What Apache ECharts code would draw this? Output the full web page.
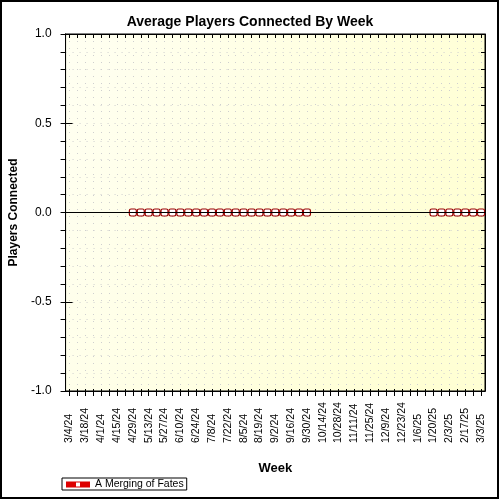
<!DOCTYPE html>
<html>
<head>
<meta charset="utf-8">
<script src="https://cdn.jsdelivr.net/npm/echarts@6/dist/echarts.min.js"></script>
<style>
  html, body { margin: 0; padding: 0; background: #fff; }
  #main { width: 500px; height: 500px; }
</style>
</head>
<body>
<div id="main"></div>
<script>
var weeks = ['3/4/24', '3/11/24', '3/18/24', '3/25/24', '4/1/24', '4/8/24', '4/15/24', '4/22/24',
	'4/29/24', '5/6/24', '5/13/24', '5/20/24', '5/27/24', '6/3/24', '6/10/24', '6/17/24', '6/24/24',
	'7/1/24', '7/8/24', '7/15/24', '7/22/24', '7/29/24', '8/5/24', '8/12/24', '8/19/24', '8/26/24',
	'9/2/24', '9/9/24', '9/16/24', '9/23/24', '9/30/24', '10/7/24', '10/14/24', '10/21/24', '10/28/24',
	'11/4/24', '11/11/24', '11/18/24', '11/25/24', '12/2/24', '12/9/24', '12/16/24', '12/23/24',
	'12/30/24', '1/6/25', '1/13/25', '1/20/25', '1/27/25', '2/3/25', '2/10/25', '2/17/25', '2/24/25',
	'3/3/25'];

var seriesName = 'A Merging of Fates';
var playersConnected = [null, null, null, null, null, null, null, null,
	0, 0, 0, 0, 0, 0, 0, 0, 0, 0, 0, 0, 0, 0, 0, 0, 0, 0, 0, 0, 0, 0, 0,
	null, null, null, null, null, null, null, null, null, null, null, null, null, null, null,
	0, 0, 0, 0, 0, 0, 0];

var yTicks = [-1, -0.5, 0, 0.5, 1];

var font = "'Liberation Sans', Arial, sans-serif";
var dotted = { color: '#cfcfcf', width: 1, type: [1, 6] };
var black = { color: '#000', width: 1 };

var myChart = echarts.init(document.getElementById('main'));

// one value axis, reused for the inside / outside tick sets
function valueAxis(extra) {
	var base = {
		type: 'value',
		min: yTicks[0],
		max: yTicks[yTicks.length - 1],
		interval: 0.5,
		axisLine: { show: true, onZero: false, lineStyle: black },
		axisLabel: { show: false },
		splitLine: { show: false }
	};
	return Object.assign(base, extra);
}

function weekAxis(extra) {
	var base = {
		type: 'category',
		data: weeks,
		boundaryGap: true,
		axisLine: { show: true, onZero: false, lineStyle: black },
		axisLabel: { show: false },
		splitLine: { show: false }
	};
	return Object.assign(base, extra);
}

var option = {
	backgroundColor: '#fff',
	animation: false,
	title: {
		text: 'Average Players Connected By Week',
		left: 'center',
		top: 10,
		textStyle: { fontFamily: font, fontSize: 14, fontWeight: 'bold', color: '#000' }
	},
	graphic: [{
		type: 'rect',
		shape: { x: 1, y: 1, width: 497, height: 497 },
		style: { fill: 'none', stroke: '#000', lineWidth: 2 },
		silent: true
	}],
	legend: {
		left: 62,
		top: 478,
		padding: [1, 3, 0, 4],
		borderColor: '#000',
		borderWidth: 1,
		backgroundColor: '#fff',
		// red bar with a square hole, like the marker on the line
		icon: 'path://M0 0H24V6H0Z M10 1V5H14V1Z',
		itemWidth: 24,
		itemHeight: 6,
		itemGap: 6,
		textStyle: { fontFamily: font, fontSize: 10.5, color: '#000' },
		itemStyle: { color: '#dd0000', borderWidth: 0 },
		data: [seriesName]
	},
	grid: {
		left: 62,
		right: 15,
		top: 34,
		bottom: 109,
		show: true,
		borderColor: '#000',
		borderWidth: 1,
		backgroundColor: {
			type: 'linear', x: 0, y: 0, x2: 1, y2: 0.4,
			colorStops: [
				{ offset: 0, color: '#fffff2' },
				{ offset: 1, color: '#ffffd4' }
			]
		}
	},
	xAxis: [
		weekAxis({
			name: 'Week',
			nameLocation: 'middle',
			nameGap: 71,
			nameTextStyle: { fontFamily: font, fontSize: 13, fontWeight: 'bold', color: '#000' },
			axisTick: { show: true, interval: 0, alignWithLabel: true, length: 5, lineStyle: black },
			axisLabel: {
				interval: 1,
				rotate: 90,
				margin: 52,
				align: 'left',
				fontFamily: font,
				fontSize: 10.5,
				color: '#000'
			},
			splitLine: { show: true, interval: 0, alignWithLabel: true, lineStyle: dotted }
		}),
		weekAxis({
			position: 'top',
			axisTick: { show: true, inside: true, interval: 0, alignWithLabel: true, length: 4, lineStyle: black }
		}),
		weekAxis({
			position: 'bottom',
			axisTick: { show: true, inside: true, interval: 0, alignWithLabel: true, length: 2, lineStyle: black }
		})
	],
	yAxis: [
		valueAxis({
			name: 'Players Connected',
			nameLocation: 'middle',
			nameGap: 41,
			nameTextStyle: { fontFamily: font, fontSize: 12, fontWeight: 'bold', color: '#000' },
			axisTick: { show: true, length: 5, lineStyle: black },
			minorTick: { show: true, splitNumber: 5, length: 5, lineStyle: black },
			axisLabel: {
				show: true,
				fontFamily: font,
				fontSize: 12,
				color: '#000',
				margin: 14,
				formatter: function (v) { return v.toFixed(1); }
			},
			splitLine: { show: true, lineStyle: dotted },
			minorSplitLine: { show: true, lineStyle: dotted }
		}),
		valueAxis({
			position: 'right',
			axisTick: { show: true, inside: true, length: 4, lineStyle: black },
			minorTick: { show: true, splitNumber: 5, length: 4, lineStyle: black }
		}),
		valueAxis({
			position: 'left',
			axisTick: { show: true, inside: true, length: 7, lineStyle: black }
		})
	],
	series: [{
		name: seriesName,
		type: 'line',
		data: playersConnected,
		connectNulls: false,
		symbol: 'roundRect',
		symbolSize: 7,
		showAllSymbol: true,
		lineStyle: { color: '#990000', width: 2 },
		itemStyle: { color: '#fff', borderColor: '#990000', borderWidth: 1.2 },
		markLine: {
			silent: true,
			symbol: 'none',
			label: { show: false },
			lineStyle: { color: '#000', width: 1, type: 'solid' },
			data: [{ yAxis: yTicks[2] }]
		},
		z: 3
	}]
};

myChart.setOption(option);
</script>
</body>
</html>
